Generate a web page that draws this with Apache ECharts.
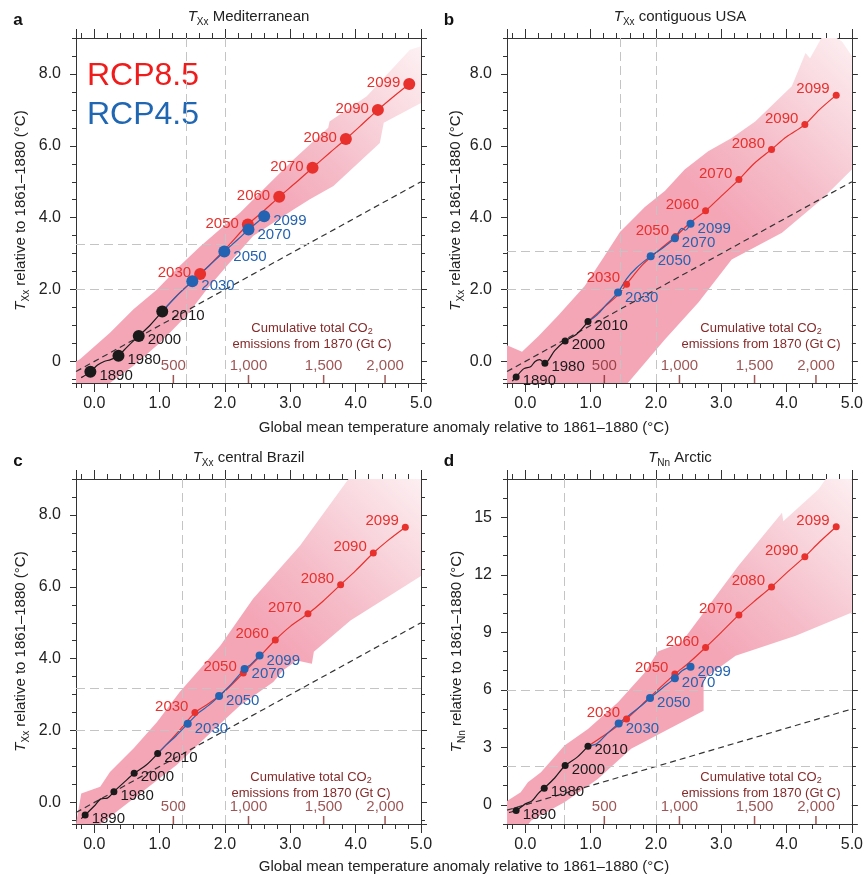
<!DOCTYPE html>
<html><head><meta charset="utf-8">
<script src="https://cdn.jsdelivr.net/npm/echarts@6/dist/echarts.min.js"></script>
<style>html,body{margin:0;padding:0;background:#fff}#c{width:866px;height:876px}</style>
</head><body><div id="c"></div>
<script>
const FONT = '"Liberation Sans", Arial, Helvetica, sans-serif';
const RED = '#e8302c', BLUE = '#2363b1', BLACK = '#1a1a1a', CO2C = '#842a2a', AXC = '#333';
const PINK = '#f4a6b7';

// ---- shared categories / labels ----
const yearsHist = ['1890', '1980', '2000', '2010'];
const years45 = ['2030', '2050', '2070', '2099'];
const years85 = ['2030', '2050', '2060', '2070', '2080', '2090', '2099'];
const co2Labels = ['500', '1,000', '1,500', '2,000'];
const co2TempPos = [1.21, 2.36, 3.51, 4.45];
const oneToOne = [[-0.28, -0.28], [5, 5]];

// ---- panel a: TXx Mediterranean ----
const dotsHistA = [[-0.06, -0.29], [0.37, 0.16], [0.68, 0.71], [1.04, 1.39]];
const dots45A = [[1.5, 2.23], [1.99, 3.06], [2.36, 3.67], [2.6, 4.04]];
const dots85A = [[1.62, 2.43], [2.35, 3.81], [2.83, 4.58], [3.34, 5.39], [3.85, 6.19], [4.34, 7.0], [4.82, 7.72]];
const histA = [[-0.2, -0.45], [-0.06, -0.29], [0.05, -0.1], [0.15, 0.0], [0.25, 0.05], [0.37, 0.16], [0.5, 0.4], [0.68, 0.71], [0.85, 1.0], [1.04, 1.39]];
const line45A = [[1.04, 1.39], [1.25, 1.8], [1.5, 2.23], [1.75, 2.65], [1.99, 3.06], [2.2, 3.4], [2.36, 3.67], [2.5, 3.88], [2.6, 4.04]];
const line85A = [[1.04, 1.39], [1.3, 1.9], [1.62, 2.43], [2.0, 3.12], [2.35, 3.81], [2.6, 4.2], [2.83, 4.58], [3.1, 5.0], [3.34, 5.39], [3.6, 5.8], [3.85, 6.19], [4.1, 6.6], [4.34, 7.0], [4.6, 7.4], [4.82, 7.72]];
const bandA = [[-0.28, 0.0], [-0.22, 0.06], [0.24, 0.8], [0.6, 1.45], [0.96, 2.0], [1.31, 2.66], [1.62, 3.2], [1.92, 3.67], [2.23, 4.14], [2.64, 4.88], [3.05, 5.62], [3.58, 6.5], [3.6, 6.68], [4.17, 7.38], [4.83, 8.67], [5.0, 8.77],
  [5.0, 7.19], [4.43, 6.64], [4.37, 6.08], [3.66, 4.88], [3.3, 4.51], [3.05, 4.23], [2.43, 3.49], [2.03, 2.66], [1.72, 2.0], [1.41, 1.27], [1.01, 0.53], [0.6, -0.12], [0.24, -0.6], [-0.28, -0.6]];
const vRefA = [1.4, 2.0], hRefA = [2.0, 3.26];

// ---- panel b: TXx contiguous USA ----
const dotsHistB = [[-0.14, -0.43], [0.30, -0.05], [0.61, 0.57], [0.96, 1.11]];
const dots45B = [[1.42, 1.92], [1.92, 2.93], [2.29, 3.43], [2.53, 3.83]];
const dots85B = [[1.55, 2.15], [2.3, 3.48], [2.76, 4.19], [3.27, 5.06], [3.77, 5.9], [4.28, 6.59], [4.76, 7.41]];
const histB = [[-0.2, -0.55], [-0.14, -0.43], [-0.02, -0.2], [0.08, -0.15], [0.15, 0.0], [0.22, 0.05], [0.3, -0.05], [0.45, 0.3], [0.61, 0.57], [0.78, 0.75], [0.96, 1.11]];
const line45B = [[0.96, 1.11], [1.1, 1.3], [1.25, 1.6], [1.42, 1.92], [1.55, 2.3], [1.7, 2.6], [1.92, 2.93], [2.1, 3.15], [2.29, 3.43], [2.4, 3.7], [2.45, 3.65], [2.53, 3.83]];
const line85B = [[0.96, 1.11], [1.2, 1.5], [1.42, 1.85], [1.55, 2.15], [1.8, 2.7], [2.05, 3.1], [2.3, 3.48], [2.55, 3.9], [2.76, 4.19], [3.0, 4.6], [3.27, 5.06], [3.5, 5.5], [3.77, 5.9], [4.0, 6.25], [4.28, 6.59], [4.5, 7.0], [4.76, 7.41]];
const bandB = [[-0.28, 0.45], [-0.05, 0.27], [0.2, 0.7], [0.5, 1.27], [0.91, 2.1], [1.2, 2.9], [1.45, 3.6], [1.83, 4.3], [2.14, 4.75], [2.44, 5.34], [2.8, 5.85], [3.16, 6.22], [3.52, 6.68], [4.08, 7.66], [4.29, 8.58], [4.36, 8.44], [4.49, 8.86], [4.6, 9.2], [4.85, 8.9], [5.0, 8.5],
  [5.0, 5.34], [4.54, 4.51], [3.93, 3.58], [3.16, 2.84], [2.65, 1.64], [2.14, 0.62], [1.57, -0.6], [-0.28, -0.6]];
const vRefB = [1.45, 2.0], hRefB = [2.0, 3.06];

// ---- panel c: TXx central Brazil ----
const dotsHistC = [[-0.14, -0.35], [0.30, 0.30], [0.61, 0.81], [0.97, 1.36]];
const dots45C = [[1.43, 2.19], [1.91, 2.96], [2.30, 3.71], [2.53, 4.09]];
const dots85C = [[1.54, 2.5], [2.28, 3.6], [2.77, 4.52], [3.27, 5.25], [3.77, 6.06], [4.27, 6.94], [4.76, 7.66]];
const histC = [[-0.2, -0.45], [-0.14, -0.35], [0.0, -0.1], [0.1, 0.1], [0.2, 0.12], [0.3, 0.3], [0.45, 0.55], [0.61, 0.81], [0.8, 1.05], [0.97, 1.36]];
const line45C = [[0.97, 1.36], [1.1, 1.6], [1.25, 1.85], [1.43, 2.19], [1.6, 2.5], [1.75, 2.7], [1.91, 2.96], [2.1, 3.3], [2.3, 3.71], [2.4, 3.85], [2.53, 4.09]];
const line85C = [[0.97, 1.36], [1.15, 1.7], [1.3, 2.0], [1.54, 2.5], [1.75, 2.75], [2.0, 3.1], [2.28, 3.6], [2.5, 4.0], [2.77, 4.52], [3.0, 4.9], [3.27, 5.25], [3.5, 5.6], [3.77, 6.06], [4.0, 6.45], [4.27, 6.94], [4.5, 7.3], [4.76, 7.66]];
const bandC = [[-0.28, -0.6], [-0.2, 0.25], [0.09, 0.44], [0.24, 0.85], [0.6, 1.5], [0.96, 2.24], [1.31, 3.08], [1.62, 3.72], [1.93, 4.37], [2.43, 5.67], [3.15, 7.15], [3.97, 9.2], [5.0, 9.2],
  [5.0, 6.3], [3.92, 5.06], [3.36, 4.19], [3.33, 3.86], [3.1, 3.95], [2.89, 3.68], [2.74, 3.35], [2.23, 2.7], [1.82, 2.01], [1.26, 1.04], [0.8, 0.39], [0.34, -0.26], [0.09, -0.6]];
const vRefC = [1.34, 2.0], hRefC = [2.0, 3.19];

// ---- panel d: TNn Arctic ----
const dotsHistD = [[-0.14, -0.3], [0.29, 0.87], [0.61, 2.05], [0.96, 3.06]];
const dots45D = [[1.43, 4.25], [1.91, 5.57], [2.29, 6.61], [2.53, 7.2]];
const dots85D = [[1.55, 4.48], [2.29, 6.82], [2.76, 8.21], [3.27, 9.91], [3.77, 11.37], [4.28, 12.95], [4.76, 14.51]];
const histD = [[-0.25, -0.4], [-0.14, -0.3], [0.0, 0.05], [0.1, 0.2], [0.2, 0.6], [0.29, 0.87], [0.45, 1.4], [0.61, 2.05], [0.8, 2.5], [0.96, 3.06]];
const line45D = [[0.96, 3.06], [1.1, 3.2], [1.25, 3.7], [1.43, 4.25], [1.6, 4.7], [1.75, 5.1], [1.91, 5.57], [2.1, 6.1], [2.29, 6.61], [2.4, 7.0], [2.53, 7.2]];
const line85D = [[0.96, 3.06], [1.2, 3.6], [1.55, 4.48], [1.9, 5.6], [2.29, 6.82], [2.5, 7.4], [2.76, 8.21], [3.0, 9.0], [3.27, 9.91], [3.5, 10.6], [3.77, 11.37], [4.0, 12.1], [4.28, 12.95], [4.5, 13.7], [4.76, 14.51]];
const bandD = [[-0.28, -1], [-0.28, 0.2], [-0.07, 0.66], [0.04, 1.18], [0.24, 1.7], [0.6, 3.09], [0.96, 3.96], [1.42, 5.35], [1.83, 6.91], [2.03, 8.0], [2.39, 8.47], [3.26, 12.46], [3.93, 15.24], [3.95, 14.8], [4.49, 16.46], [4.7, 17.5], [5.0, 17.5],
  [5.0, 10.04], [4.14, 8.82], [3.22, 7.78], [2.73, 6.56], [2.73, 4.91], [1.62, 2.92], [1.11, 1.35], [0.6, 0.14], [0.09, -0.82], [0.05, -1]];
const vRefD = [0.59, 2.0], hRefD = [2.0, 6.0];

// ---- layout (positions & styles only) ----
const fmt1 = v => v.toFixed(1);
const panels = [
  { letter: 'a', grid: { left: 76, top: 38, width: 345, height: 345 }, yMin: -0.6, yMax: 9, yMaj: 2, yMin2: 0.5,
    yFmt: v => v === 0 ? '0' : v.toFixed(1), big: true, sub: 'Xx', title: ' Mediterranean', nameGap: 45, co2: [236, 290],
    dH: dotsHistA, d45: dots45A, d85: dots85A, h: histA, l45: line45A, l85: line85A, band: bandA, v: vRefA, hr: hRefA },
  { letter: 'b', grid: { left: 507, top: 38, width: 346, height: 345 }, yMin: -0.6, yMax: 9, yMaj: 2, yMin2: 0.5,
    yFmt: fmt1, big: false, sub: 'Xx', title: ' contiguous USA', nameGap: 41, co2: [254, 290],
    dH: dotsHistB, d45: dots45B, d85: dots85B, h: histB, l45: line45B, l85: line85B, band: bandB, v: vRefB, hr: hRefB },
  { letter: 'c', grid: { left: 76, top: 479, width: 345, height: 345 }, yMin: -0.6, yMax: 9, yMaj: 2, yMin2: 0.5,
    yFmt: fmt1, big: false, sub: 'Xx', title: ' central Brazil', nameGap: 45, co2: [235, 298],
    dH: dotsHistC, d45: dots45C, d85: dots85C, h: histC, l45: line45C, l85: line85C, band: bandC, v: vRefC, hr: hRefC },
  { letter: 'd', grid: { left: 507, top: 479, width: 346, height: 345 }, yMin: -1, yMax: 17, yMaj: 3, yMin2: 1,
    yFmt: v => String(v), big: false, sub: 'Nn', title: ' Arctic', nameGap: 40, co2: [254, 298],
    dH: dotsHistD, d45: dots45D, d85: dots85D, h: histD, l45: line45D, l85: line85D, band: bandD, v: vRefD, hr: hRefD }
];

const grids = [], xAxes = [], yAxes = [], series = [], graphics = [];
const lineAx = { show: true, onZero: false, lineStyle: { color: AXC, width: 1 } };
const noLine = { show: false, onZero: false };

function xAx(pi, pos, step, major, labels) {
  return { gridIndex: pi, type: 'value', position: pos, min: -0.28, max: 5, minInterval: step, maxInterval: step,
    axisLine: major ? lineAx : noLine, splitLine: { show: false },
    axisTick: { show: true, inside: false, length: major ? 9 : 5, lineStyle: { color: AXC, width: 1 } },
    axisLabel: { show: labels, showMinLabel: false, formatter: fmt1, fontSize: 16, fontFamily: FONT, color: '#222', margin: 13 } };
}
function yAx(pi, p, pos, step, major, labels, name) {
  const o = { gridIndex: pi, type: 'value', position: pos, min: p.yMin, max: p.yMax, minInterval: step, maxInterval: step,
    axisLine: major ? lineAx : noLine, splitLine: { show: false },
    axisTick: { show: true, inside: false, length: major ? 6 : 4, lineStyle: { color: AXC, width: 1 } },
    axisLabel: { show: labels, showMinLabel: false, showMaxLabel: false, formatter: p.yFmt, fontSize: 16, fontFamily: FONT, color: '#222', margin: 15 } };
  if (name) {
    o.name = '{t|T}{s|' + p.sub + '}{n| relative to 1861–1880 (°C)}';
    o.nameLocation = 'middle'; o.nameGap = p.nameGap; o.nameRotate = 90;
    o.nameTextStyle = { rich: {
      t: { fontSize: 15, fontStyle: 'italic', fontFamily: FONT, color: '#222', lineHeight: 20 },
      s: { fontSize: 10, fontFamily: FONT, color: '#222', verticalAlign: 'bottom', lineHeight: 10 },
      n: { fontSize: 15, fontFamily: FONT, color: '#222', lineHeight: 20 } } };
  }
  return o;
}
function poly(pi, pts, fill, z) {
  return { type: 'custom', xAxisIndex: 4 * pi, yAxisIndex: 4 * pi, data: pts, silent: true, z: z,
    renderItem: function (params, api) {
      if (params.dataIndex !== 0) return null;
      const cs = params.coordSys;
      return { type: 'polygon', shape: { points: pts.map(q => api.coord(q)) }, style: { fill: fill },
        clipPath: { type: 'rect', shape: { x: cs.x, y: cs.y, width: cs.width, height: cs.height } } };
    } };
}
function lineS(pi, data, color, z) {
  return { type: 'line', xAxisIndex: 4 * pi, yAxisIndex: 4 * pi, data: data, symbol: 'none', smooth: 0.3,
    lineStyle: { color: color, width: 1.2 }, z: z, silent: true, clip: true };
}
function dotS(pi, pts, names, color, size, pos, offset, z) {
  return { type: 'scatter', xAxisIndex: 4 * pi, yAxisIndex: 4 * pi, symbolSize: size, z: z, silent: true,
    itemStyle: { color: color, opacity: 1 },
    data: pts.map((q, i) => ({ value: q, name: names[i] })),
    label: { show: true, formatter: '{b}', position: pos, offset: offset, distance: 3, color: color, fontSize: 15, fontFamily: FONT } };
}

panels.forEach((p, pi) => {
  grids.push(Object.assign({ containLabel: false }, p.grid));
  xAxes.push(xAx(pi, 'bottom', 1, true, true), xAx(pi, 'bottom', 0.2, false, false), xAx(pi, 'top', 1, true, false), xAx(pi, 'top', 0.2, false, false));
  yAxes.push(yAx(pi, p, 'left', p.yMaj, true, true, true), yAx(pi, p, 'left', p.yMin2, false, false, false), yAx(pi, p, 'right', p.yMaj, true, false, false), yAx(pi, p, 'right', p.yMin2, false, false, false));

  // grey reference lines (behind the band)
  series.push({ type: 'line', xAxisIndex: 4 * pi, yAxisIndex: 4 * pi, data: oneToOne, symbol: 'none', silent: true, z: 0,
    lineStyle: { opacity: 0 },
    markLine: { silent: true, symbol: 'none', label: { show: false }, animation: false,
      lineStyle: { color: '#c4c4c4', width: 1, type: [9, 5] },
      data: p.v.map(v => ({ xAxis: v })).concat(p.hr.map(v => ({ yAxis: v }))) } });

  const grad = { type: 'linear', x: 0, y: 1, x2: 1, y2: 0, colorStops: [
    { offset: 0, color: PINK }, { offset: 0.55, color: PINK }, { offset: 0.7, color: '#f5bcc8' },
    { offset: 0.85, color: '#f9d7de' }, { offset: 1, color: '#fdf1f3' }] };
  series.push(poly(pi, p.band, grad, 1));

  series.push({ type: 'line', xAxisIndex: 4 * pi, yAxisIndex: 4 * pi, data: oneToOne, symbol: 'none', silent: true, z: 3,
    lineStyle: { color: '#333', width: 1.2, type: [6, 4] } });

  series.push(lineS(pi, p.h, BLACK, 4), lineS(pi, p.l85, RED, 4), lineS(pi, p.l45, BLUE, 5));
  const sz = p.big ? 12 : 7;
  series.push(dotS(pi, p.d85, years85, RED, sz, 'left', p.big ? [0, -1] : [0, -6], 6));
  series.push(dotS(pi, p.d45, years45, BLUE, sz + (p.big ? 0 : 1), 'right', [0, 5], 7));
  series.push(dotS(pi, p.dH, yearsHist, BLACK, sz, 'right', [0, 4], 7));

  series.push({ type: 'scatter', xAxisIndex: 4 * pi, yAxisIndex: 4 * pi, symbol: 'rect', symbolSize: [1.5, 8], symbolOffset: [0, -4],
    itemStyle: { color: CO2C }, silent: true, clip: false, z: 8,
    data: co2TempPos.map((x, i) => ({ value: [x, p.yMin], name: co2Labels[i] })),
    label: { show: true, position: 'top', distance: 2, formatter: '{b}', color: CO2C, fontSize: 15, fontFamily: FONT } });

  const g = p.grid;
  graphics.push({ type: 'text', x: g.left - 58, y: g.top - 18, silent: true,
    style: { text: p.letter, font: 'bold 17px ' + FONT, fill: '#111', align: 'center', verticalAlign: 'middle' } });
  graphics.push({ type: 'text', x: g.left + g.width / 2, y: g.top - 21, silent: true,
    style: { text: '{t|T}{s|' + p.sub + '}{n|' + p.title + '}', align: 'center', verticalAlign: 'middle',
      rich: { t: { fontSize: 15, fontStyle: 'italic', fontFamily: FONT, fill: '#222', lineHeight: 20 },
              s: { fontSize: 10, fontFamily: FONT, fill: '#222', verticalAlign: 'bottom', lineHeight: 10 },
              n: { fontSize: 15, fontFamily: FONT, fill: '#222', lineHeight: 20 } } } });
  graphics.push({ type: 'text', x: g.left + p.co2[0], y: g.top + p.co2[1] + 8, silent: true,
    style: { text: '{n|Cumulative total CO}{s|2}\n{n|emissions from 1870 (Gt C)}', align: 'center', verticalAlign: 'middle',
      rich: { n: { fontSize: 13, fontFamily: FONT, fill: CO2C, lineHeight: 16 },
              s: { fontSize: 9, fontFamily: FONT, fill: CO2C, verticalAlign: 'bottom', lineHeight: 9 } } } });
});

// shared x-axis titles and scenario labels
[428, 867].forEach(yy => graphics.push({ type: 'text', x: 464, y: yy, silent: true,
  style: { text: 'Global mean temperature anomaly relative to 1861–1880 (°C)', font: '15px ' + FONT, fill: '#222', align: 'center', verticalAlign: 'middle' } }));
graphics.push({ type: 'text', x: 87, y: 76, silent: true, style: { text: 'RCP8.5', font: '32px ' + FONT, fill: '#f01c1c', align: 'left', verticalAlign: 'middle' } });
graphics.push({ type: 'text', x: 87, y: 115, silent: true, style: { text: 'RCP4.5', font: '32px ' + FONT, fill: '#1f66b3', align: 'left', verticalAlign: 'middle' } });

const chart = echarts.init(document.getElementById('c'), null, { renderer: 'canvas' });
chart.setOption({ animation: false, backgroundColor: '#fff', grid: grids, xAxis: xAxes, yAxis: yAxes, series: series, graphic: graphics });
</script></body></html>
